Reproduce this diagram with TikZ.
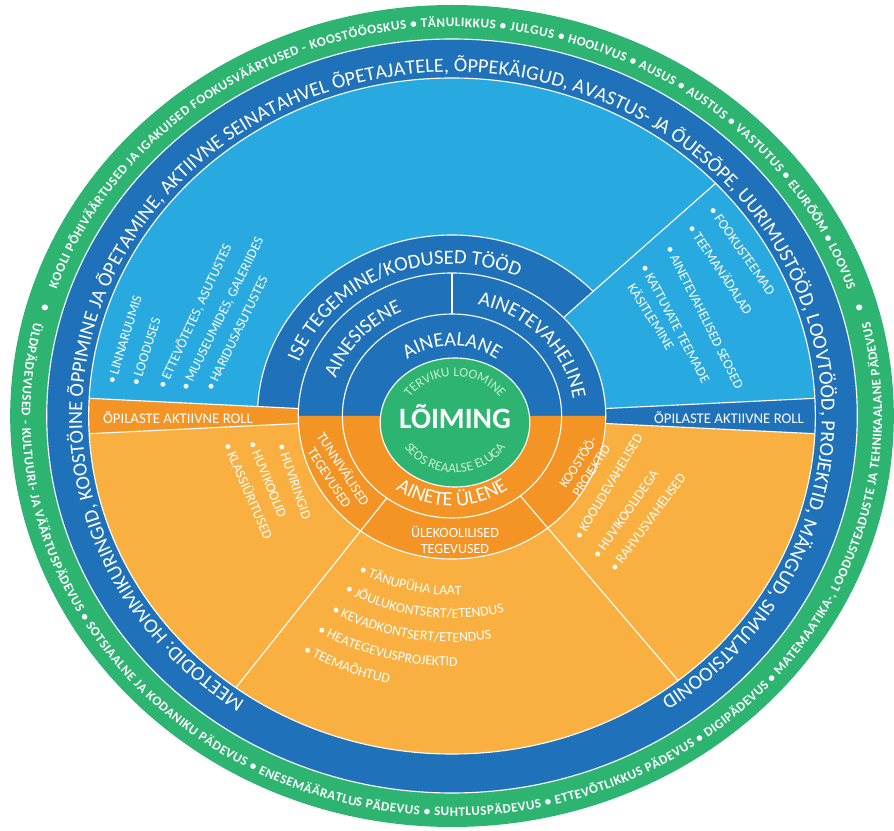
\documentclass[tikz,border=0pt]{standalone}
\usepackage{fontspec}
\setmainfont{Carlito}
\usetikzlibrary{decorations.text}

\definecolor{loimgreen}{RGB}{45,180,112}
\definecolor{loimblue}{RGB}{31,114,186}
\definecolor{loimsky}{RGB}{40,170,225}
\definecolor{loimorange}{RGB}{244,148,36}
\definecolor{loimpeach}{RGB}{250,176,64}
\definecolor{loimpale}{RGB}{200,238,210}

\newcommand{\ringsector}[5]{\fill[#5] (#3:#2) arc[start angle=#3, end angle=#4, radius=#2] -- (#4:#1) arc[start angle=#4, end angle=#3, radius=#1] -- cycle;}
\newcommand{\bandfont}{\fontsize{14.3}{14.3}\selectfont}
\newcommand{\rimfont}{\fontsize{9.3}{9.3}\selectfont\bfseries}
\newcommand{\labelfont}{\fontsize{14.5}{14.5}\selectfont}
\newcommand{\listfont}{\fontsize{9.8}{9.8}\selectfont}
\newcommand{\corefont}{\fontsize{9.5}{9.5}\selectfont}

\tikzset{
  sepline/.style={white, line width=0.8pt},
  arctext/.style={decorate, decoration={text along path, text color=white, #1}},
  listitem/.style={text=white, inner sep=0pt, anchor=base west, font=\listfont},
  partlabel/.style={text=white, align=center, inner sep=0pt, font=\fontsize{10}{11.5}\selectfont},
  bartext/.style={text=white, inner sep=0pt, font=\fontsize{10.5}{12}\selectfont}
}

\begin{document}
\begin{tikzpicture}[x=0.025cm, y=0.025cm]
\useasboundingbox (0,0) rectangle (894,830);

\begin{scope}[shift={(452,414)}, xscale=1.075]
  \fill[loimgreen] (0,0) circle[radius=411];
  \fill[loimblue] (0,0) circle[radius=377];
  \fill[loimsky] (0,0) -- (3:338) arc[start angle=3, end angle=177, radius=338] -- cycle;
  \fill[loimpeach] (0,0) -- (183:338) arc[start angle=183, end angle=357, radius=338] -- cycle;
  \ringsector{143}{338}{177}{183}{loimorange}
  \ringsector{143}{338}{-3}{3}{loimblue}
  \ringsector{143}{181}{43.5}{177}{loimblue}
  \fill[loimblue] (0,0) -- (0:143) arc[start angle=0, end angle=180, radius=143] -- cycle;
  \fill[loimorange] (0,0) -- (180:143) arc[start angle=180, end angle=360, radius=143] -- cycle;

  \draw[sepline] (0,0) circle[radius=377];
  \draw[sepline] (0,0) circle[radius=338];
  \draw[sepline] (0,0) circle[radius=143];
  \draw[sepline] (0,0) circle[radius=102];
  \draw[sepline] (43.5:181) arc[start angle=43.5, end angle=177, radius=181];
  \foreach \a in {43.5,177,183,-3,3}
    \draw[sepline] (\a:143) -- (\a:338);
  \draw[sepline] (90:102) -- (90:143);
  \foreach \a in {233.5,308.5}
    \draw[sepline] (\a:102) -- (\a:338);

  \fill[white] (164:394) circle[radius=3];
  \fill[white] (16:394) circle[radius=3];

  \path[arctext={text={|\rimfont|KOOLI PÕHIVÄÄRTUSED JA IGAKUISED FOOKUSVÄÄRTUSED - KOOSTÖÖOSKUS • TÄNULIKKUS • JULGUS • HOOLIVUS • AUSUS • AUSTUS • VASTUTUS • ELURÕÕM • LOOVUS}, text align=fit to path}]
    (161:389) arc[start angle=161, end angle=19, radius=389];
  \path[arctext={text={|\rimfont|ÜLDPÄDEVUSED - KULTUURI- JA VÄÄRTUSPÄDEVUS • SOTSIAALNE JA KODANIKU PÄDEVUS • ENESEMÄÄRATLUS PÄDEVUS • SUHTLUSPÄDEVUS • ETTEVÕTLIKKUS PÄDEVUS • DIGIPÄDEVUS • MATEMAATIKA-, LOODUSTEADUSTE JA TEHNIKAALANE PÄDEVUS}, text align=fit to path}]
    (166.5:400) arc[start angle=166.5, end angle=373.5, radius=400];
  \path[arctext={text={|\bandfont|MEETODID: HOMMIKURINGID, KOOSTÖINE ÕPPIMINE JA ÕPETAMINE, AKTIIVNE SEINATAHVEL ÕPETAJATELE, ÕPPEKÄIGUD, AVASTUS- JA ÕUESÕPE, UURIMUSTÖÖD, LOOVTÖÖD, PROJEKTID, MÄNGUD, SIMULATSIOONID}, text align=fit to path}]
    (236:344) arc[start angle=236, end angle=-55.5, radius=344];

  \path[arctext={text={|\labelfont|ISE TEGEMINE/KODUSED TÖÖD}, text align=center}]
    (176:152) arc[start angle=176, end angle=50, radius=152];
  \path[arctext={text={|\labelfont|AINESISENE}, text align=center}]
    (178:114) arc[start angle=178, end angle=98, radius=114];
  \path[arctext={text={|\labelfont|AINETEVAHELINE}, text align=center}]
    (86:114) arc[start angle=86, end angle=0, radius=114];
  \path[arctext={text={|\labelfont|AINEALANE}, text align=center}]
    (160:70) arc[start angle=160, end angle=20, radius=70];
  \path[arctext={text={|\labelfont|AINETE ÜLENE}, text align=center}]
    (200:90) arc[start angle=200, end angle=340, radius=90];

  \path[arctext={text={|\listfont|• TÄNUPÜHA LAAT}}]
    (241:179) arc[start angle=241, end angle=300, radius=179];
  \path[arctext={text={|\listfont|• JÕULUKONTSERT/ETENDUS}}]
    (240.4:202) arc[start angle=240.4, end angle=300, radius=202];
  \path[arctext={text={|\listfont|• KEVADKONTSERT/ETENDUS}}]
    (240.2:226) arc[start angle=240.2, end angle=300, radius=226];
  \path[arctext={text={|\listfont|• HEATEGEVUSPROJEKTID}}]
    (239.9:250) arc[start angle=239.9, end angle=300, radius=250];
  \path[arctext={text={|\listfont|• TEEMAÕHTUD}}]
    (239.6:274) arc[start angle=239.6, end angle=300, radius=274];
\end{scope}

\begin{scope}[shift={(455,407.5)}, xscale=1.16]
  \filldraw[sepline, fill=loimgreen] (0,0) circle[radius=64.5];
  \path[arctext={text={|\corefont|TERVIKU LOOMINE}, text align=center, text color=loimpale}]
    (160:46) arc[start angle=160, end angle=20, radius=46];
  \path[arctext={text={|\corefont|SEOS REAALSE ELUGA}, text align=center, text color=loimpale}]
    (200:50) arc[start angle=200, end angle=340, radius=50];
\end{scope}

\node[text=white, inner sep=0pt, font=\fontsize{21}{21}\selectfont\bfseries] (loiming) at (455,413) {LÕIMING};

\node[bartext] (rollleft) at (178,412) {ÕPILASTE AKTIIVNE ROLL};
\node[bartext] (rollright) at (729,412) {ÕPILASTE AKTIIVNE ROLL};

\node[partlabel, rotate=-57] (tunnivalised) at (337,357) {TUNNIVÄLISED\\TEGEVUSED};
\node[partlabel] (ulekoolilised) at (455,290) {ÜLEKOOLILISED\\TEGEVUSED};
\node[partlabel, rotate=57, font=\fontsize{9.5}{11}\selectfont] (koostoo) at (584,364) {KOOSTÖÖ-\\PROJEKTID};

\node[listitem, rotate=73] (linnaruumis) at (115,445) {• LINNARUUMIS};
\node[listitem, rotate=72] (looduses) at (139,443) {• LOODUSES};
\node[listitem, rotate=65] (ettevotetes) at (165,440) {• ETTEVÕTETES, ASUTUSTES};
\node[listitem, rotate=63.5] (muuseumides) at (188,438) {• MUUSEUMIDES, GALERIIDES};
\node[listitem, rotate=64] (haridus) at (213,438) {• HARIDUSASUTUSTES};

\node[listitem, rotate=-55] (fookusteemad) at (708,620) {• FOOKUSTEEMAD};
\node[listitem, rotate=-56.5] (teemanadalad) at (687,602) {• TEEMANÄDALAD};
\node[listitem, rotate=-63.5] (seosed) at (665,582) {• AINETEVAHELISED SEOSED};
\node[listitem, rotate=-62] (kattuvate) at (640,563) {• KATTUVATE TEEMADE};
\node[listitem, rotate=-58] (kasitlemine) at (627,543) {KÄSITLEMINE};

\node[listitem, rotate=-71] (huviringid) at (277,385) {• HUVIRINGID};
\node[listitem, rotate=-68] (huvikoolid) at (248,387) {• HUVIKOOLID};
\node[listitem, rotate=-66.5] (klassiuritused) at (223,385) {• KLASSIÜRITUSED};

\node[listitem, rotate=59] (koolidevahelised) at (581,289) {• KOOLIDEVAHELISED};
\node[listitem, rotate=55] (huvikoolidega) at (599,270) {• HUVIKOOLIDEGA};
\node[listitem, rotate=53.5] (rahvusvahelised) at (616,257) {• RAHVUSVAHELISED};
\end{tikzpicture}
\end{document}
